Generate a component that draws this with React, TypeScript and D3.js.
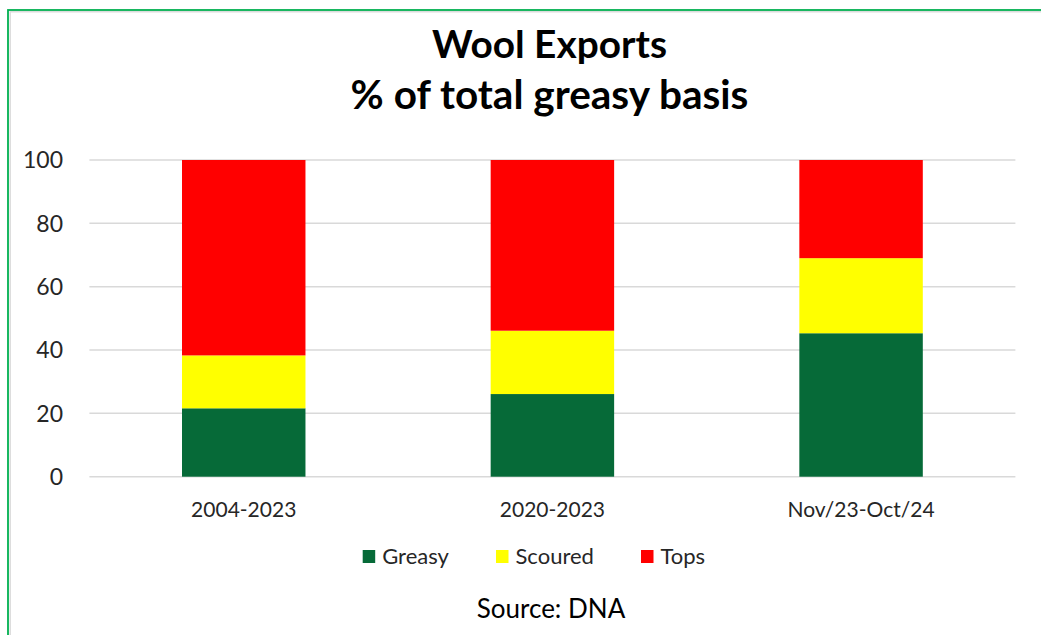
import React, { useEffect, useRef } from "react";
import * as d3 from "d3";

const categories = ["2004-2023", "2020-2023", "Nov/23-Oct/24"];
const seriesNames = ["Greasy", "Scoured", "Tops"];
const greasy = [21.6, 26.1, 45.3];
const scoured = [16.7, 20.0, 23.7];
const tops = [61.7, 53.9, 31.0];
const yTicks = [0, 20, 40, 60, 80, 100];
const colors = ["#066a38", "#ffff00", "#ff0000"];

const App: React.FC = () => {
  const svgRef = useRef<SVGSVGElement>(null);

  useEffect(() => {
    const width = 1041;
    const height = 635;
    const font = "Lato, 'Open Sans', sans-serif";

    const svg = d3.select(svgRef.current).attr("width", width).attr("height", height);
    svg.selectAll("*").remove();

    // frame (runs past the right/bottom edges in the reference)
    svg
      .append("rect")
      .attr("x", 8)
      .attr("y", 10)
      .attr("width", 1200)
      .attr("height", 800)
      .attr("fill", "#ffffff")
      .attr("stroke", "#00b050")
      .attr("stroke-width", 1.8);
    svg
      .append("line")
      .attr("x1", 10.2)
      .attr("x2", 10.2)
      .attr("y1", 11)
      .attr("y2", height)
      .attr("stroke", "#dcdcdc")
      .attr("stroke-width", 1.5);
    svg
      .append("line")
      .attr("x1", 10)
      .attr("x2", width)
      .attr("y1", 11.7)
      .attr("y2", 11.7)
      .attr("stroke", "#dcdcdc")
      .attr("stroke-width", 1.5);

    // title
    const title = svg
      .append("text")
      .attr("text-anchor", "middle")
      .attr("font-family", font)
      .attr("font-weight", "bold")
      .attr("fill", "#000");
    title.append("tspan").attr("x", 549.5).attr("y", 57.5).attr("font-size", 38.8).text("Wool Exports");
    title.append("tspan").attr("x", 549.5).attr("y", 109).attr("font-size", 40.5).text("% of total greasy basis");

    const x = d3
      .scaleBand()
      .domain(categories)
      .range([89.4, 1015.4])
      .paddingInner(0.6)
      .paddingOuter(0.3);
    const y = d3.scaleLinear().domain([0, 100]).range([476.7, 160]);

    // gridlines
    svg
      .append("g")
      .selectAll("line")
      .data(yTicks)
      .enter()
      .append("line")
      .attr("x1", 89.4)
      .attr("x2", 1015.4)
      .attr("y1", (d) => y(d))
      .attr("y2", (d) => y(d))
      .attr("stroke", "#d9d9d9")
      .attr("stroke-width", 1.5);

    svg
      .append("g")
      .selectAll("text")
      .data(yTicks)
      .enter()
      .append("text")
      .attr("x", 63)
      .attr("y", (d) => y(d))
      .attr("dy", "0.36em")
      .attr("text-anchor", "end")
      .attr("font-family", font)
      .attr("font-size", 23)
      .attr("fill", "#262626")
      .text((d) => d);

    const rows = categories.map((c, i) => ({
      cat: c,
      Greasy: greasy[i],
      Scoured: scoured[i],
      Tops: tops[i],
    }));
    const stack = d3.stack<any>().keys(seriesNames);
    const layers = stack(rows);

    svg
      .append("g")
      .selectAll("g")
      .data(layers)
      .enter()
      .append("g")
      .attr("fill", (_d, i) => colors[i])
      .selectAll("rect")
      .data((d) => d)
      .enter()
      .append("rect")
      .attr("x", (d: any) => x(d.data.cat)!)
      .attr("width", x.bandwidth())
      .attr("y", (d) => y(d[1]))
      .attr("height", (d) => y(d[0]) - y(d[1]));

    // category labels
    svg
      .append("g")
      .selectAll("text")
      .data(categories)
      .enter()
      .append("text")
      .attr("x", (d) => x(d)! + x.bandwidth() / 2)
      .attr("y", 516.5)
      .attr("text-anchor", "middle")
      .attr("font-family", font)
      .attr("font-size", 21)
      .attr("fill", "#262626")
      .text((d) => d);

    // legend
    const legendX = [362.7, 496, 641];
    const legend = svg
      .append("g")
      .selectAll("g")
      .data(seriesNames)
      .enter()
      .append("g")
      .attr("transform", (_d, i) => `translate(${legendX[i]},550)`);
    legend
      .append("rect")
      .attr("width", 12.5)
      .attr("height", 13)
      .attr("fill", (_d, i) => colors[i]);
    legend
      .append("text")
      .attr("x", 19.5)
      .attr("y", 6.5)
      .attr("dy", "0.36em")
      .attr("font-family", font)
      .attr("font-size", 22)
      .attr("fill", "#262626")
      .text((d) => d);

    svg
      .append("text")
      .attr("x", 551)
      .attr("y", 618.3)
      .attr("text-anchor", "middle")
      .attr("font-family", font)
      .attr("font-size", 26)
      .attr("fill", "#000")
      .text("Source: DNA");
  }, []);

  return (
    <div style={{ position: "absolute", left: 0, top: 0, width: 1041, height: 635, overflow: "hidden" }}>
      <svg ref={svgRef} style={{ display: "block" }}></svg>
    </div>
  );
};

export default App;
